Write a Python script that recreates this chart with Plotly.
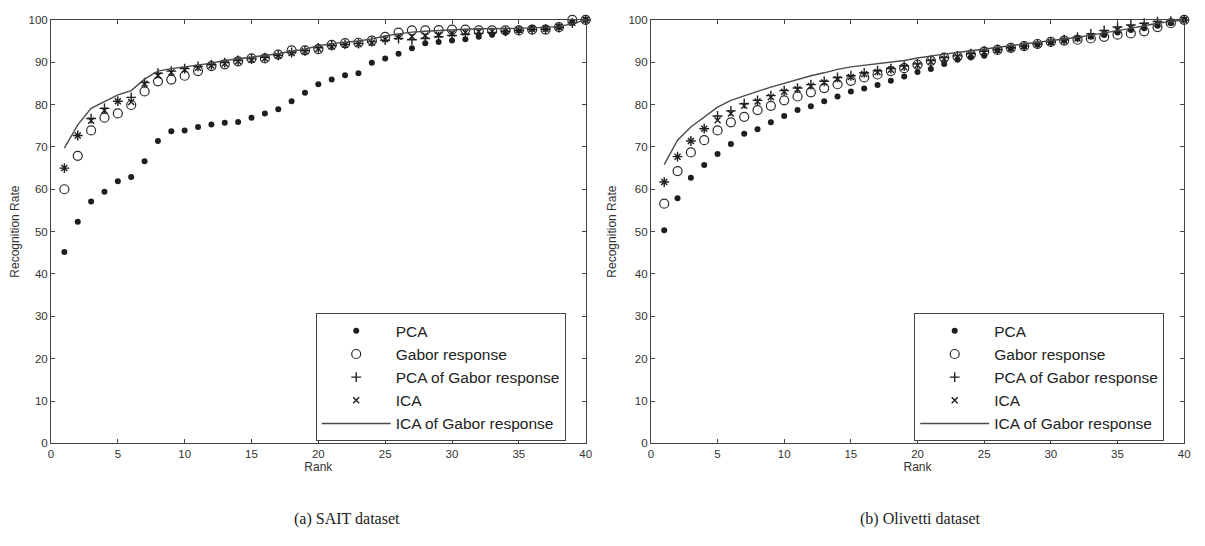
import plotly.graph_objects as go

rank = list(range(1, 41))

# (a) SAIT dataset
sait_pca = [45.2, 52.3, 57.1, 59.4, 61.9, 62.9, 66.6, 71.4, 73.7, 73.9, 74.7, 75.3, 75.7, 75.9, 76.9, 77.9, 78.9, 80.8, 82.8, 84.8,
            85.9, 86.9, 87.4, 89.9, 90.9, 92.0, 93.3, 94.5, 94.8, 95.1, 95.4, 96.0, 96.5, 97.0, 97.5, 97.9, 97.9, 98.3, 99.3, 100]
sait_gabor = [60.0, 67.9, 73.9, 76.9, 77.9, 79.9, 83.1, 85.5, 85.9, 86.8, 87.9, 89.1, 89.5, 90.2, 90.9, 90.9, 91.8, 92.8, 92.8, 93.1,
              94.1, 94.5, 94.6, 95.1, 96.0, 97.0, 97.5, 97.5, 97.6, 97.7, 97.7, 97.5, 97.5, 97.5, 97.5, 97.7, 97.7, 98.3, 100, 100]
sait_pca_gabor = [65.0, 72.7, 76.7, 79.1, 80.8, 81.7, 85.2, 87.4, 87.9, 88.5, 89.0, 89.4, 89.9, 90.4, 90.8, 91.1, 91.6, 92.3, 92.7, 93.4,
                  93.9, 94.2, 94.4, 94.8, 95.2, 95.6, 95.3, 95.6, 96.0, 96.3, 96.6, 96.8, 97.0, 97.3, 97.5, 97.7, 97.8, 98.2, 99.3, 100]
sait_ica = [65.0, 72.7, 76.2, 78.6, 80.8, 80.6, 84.9, 86.8, 87.6, 88.2, 88.7, 89.2, 89.7, 90.2, 90.6, 90.9, 91.5, 92.2, 92.6, 93.2,
            93.7, 94.1, 94.3, 94.6, 95.4, 96.0, 96.1, 96.3, 96.5, 96.8, 97.0, 97.2, 97.3, 97.4, 97.6, 97.8, 97.9, 98.3, 99.3, 100]
sait_ica_gabor = [69.7, 75.2, 79.1, 80.8, 82.3, 83.3, 86.0, 87.9, 88.5, 88.9, 89.3, 89.8, 90.4, 90.8, 91.1, 91.5, 92.0, 92.6, 93.1, 93.9,
                  94.4, 94.7, 95.0, 95.5, 96.2, 96.7, 97.1, 97.3, 97.5, 97.7, 97.8, 97.9, 97.9, 97.9, 98.0, 98.1, 98.2, 98.4, 99.1, 100]

# (b) Olivetti dataset
oli_pca = [50.3, 57.9, 62.7, 65.7, 68.3, 70.7, 73.1, 74.2, 75.8, 77.3, 78.7, 79.6, 80.8, 81.9, 83.1, 83.8, 84.6, 85.6, 86.6, 87.7,
           88.4, 89.6, 90.6, 91.1, 91.5, 92.8, 93.3, 93.7, 94.2, 94.7, 95.1, 95.6, 96.0, 96.4, 97.0, 97.6, 98.0, 98.6, 99.2, 100]
oli_gabor = [56.6, 64.3, 68.7, 71.6, 73.9, 75.8, 77.1, 78.7, 79.7, 81.0, 81.9, 82.9, 83.9, 84.8, 85.6, 86.4, 87.1, 87.9, 88.6, 89.4,
             90.3, 91.1, 91.3, 91.8, 92.5, 92.9, 93.4, 93.8, 94.3, 94.8, 95.1, 95.3, 95.6, 96.0, 96.5, 96.8, 97.3, 98.3, 99.2, 100]
oli_pca_gabor = [61.7, 67.7, 71.4, 74.3, 77.3, 78.5, 80.2, 81.0, 82.1, 83.3, 83.9, 84.7, 85.5, 86.4, 86.8, 87.5, 88.0, 88.5, 89.1, 89.6,
                 90.4, 91.1, 91.5, 92.0, 92.6, 93.0, 93.4, 93.8, 94.3, 94.8, 95.3, 95.9, 96.7, 97.5, 98.3, 98.8, 99.2, 99.6, 99.7, 100]
oli_ica = [61.7, 67.7, 71.4, 74.3, 76.3, 77.9, 79.7, 80.7, 81.8, 83.0, 83.6, 84.4, 85.2, 86.0, 86.5, 87.2, 87.7, 88.2, 88.8, 89.3,
           90.1, 90.8, 91.3, 91.8, 92.4, 92.9, 93.3, 93.7, 94.2, 94.7, 95.1, 95.6, 96.2, 96.9, 97.6, 98.1, 98.6, 99.1, 99.5, 100]
oli_ica_gabor = [65.8, 71.6, 74.7, 77.1, 79.4, 81.0, 82.1, 83.1, 84.1, 85.0, 86.0, 86.8, 87.5, 88.3, 88.9, 89.3, 89.6, 90.0, 90.4, 91.0,
                 91.5, 91.9, 92.3, 92.7, 93.0, 93.4, 93.8, 94.2, 94.6, 95.0, 95.4, 95.9, 96.4, 96.9, 97.5, 98.0, 98.6, 99.2, 99.6, 100]

series_names = ["PCA", "Gabor response", "PCA of Gabor response", "ICA", "ICA of Gabor response"]
x_ticks = [0, 5, 10, 15, 20, 25, 30, 35, 40]
y_ticks = [0, 10, 20, 30, 40, 50, 60, 70, 80, 90, 100]
captions = ["(a) SAIT dataset", "(b) Olivetti dataset"]

DARK = "#1e1e1e"
FONT = "Liberation Sans, Arial, sans-serif"
SERIF = "Liberation Serif, Times New Roman, serif"

fig = go.Figure()


def add_panel(xa, ya, legend, pca, gabor, pcag, ica, icag):
    common = dict(x=rank, xaxis=xa, yaxis=ya, legend=legend, cliponaxis=False)
    fig.add_trace(go.Scatter(y=pca, name=series_names[0], mode="markers",
                             marker=dict(symbol="circle", size=6, color=DARK), **common))
    fig.add_trace(go.Scatter(y=gabor, name=series_names[1], mode="markers",
                             marker=dict(symbol="circle-open", size=9, color="#2a2a2a", line=dict(width=1.2)), **common))
    fig.add_trace(go.Scatter(y=pcag, name=series_names[2], mode="markers",
                             marker=dict(symbol="cross-thin", size=7, color=DARK, line=dict(width=1.4, color=DARK)), **common))
    fig.add_trace(go.Scatter(y=ica, name=series_names[3], mode="markers",
                             marker=dict(symbol="x-thin", size=6, color=DARK, line=dict(width=1.4, color=DARK)), **common))
    fig.add_trace(go.Scatter(y=icag, name=series_names[4], mode="lines",
                             line=dict(color="#4a4a4a", width=1.4), **common))


add_panel("x", "y", "legend", sait_pca, sait_gabor, sait_pca_gabor, sait_ica, sait_ica_gabor)
add_panel("x2", "y2", "legend2", oli_pca, oli_gabor, oli_pca_gabor, oli_ica, oli_ica_gabor)

W, H = 1205, 546
OFF_X = 8  # page body margin in the browser
OFF_Y = 5


def px_x(p):
    return (p - OFF_X) / W


def px_y(p):
    return (H - (p - OFF_Y)) / H


y_dom = [px_y(444), px_y(11)]

xcommon = dict(range=[0, 40], tickvals=x_ticks, ticks="inside", ticklen=4, tickcolor="#444",
               showline=True, linecolor="#444", linewidth=1, mirror="ticks", showgrid=False, zeroline=False,
               ticklabeloverflow="allow",
               tickfont=dict(family=FONT, size=11.5, color="#333"),
               title=dict(text="Rank", font=dict(family=FONT, size=12, color="#333"), standoff=1))
ycommon = dict(range=[0, 100], tickvals=y_ticks, ticks="inside", ticklen=4, tickcolor="#444",
               showline=True, linecolor="#444", linewidth=1, mirror="ticks", showgrid=False, zeroline=False,
               ticklabeloverflow="allow",
               tickfont=dict(family=FONT, size=11.5, color="#333"),
               title=dict(text="Recognition Rate", font=dict(family=FONT, size=12, color="#333"), standoff=9))

legcommon = dict(font=dict(family=FONT, size=15.5, color="#222"), bordercolor="#444", borderwidth=1,
                 bgcolor="white", xanchor="left", yanchor="top", traceorder="normal", itemwidth=69,
                 tracegroupgap=0)

fig.update_layout(
    width=W, height=H,
    margin=dict(l=0, r=0, t=0, b=0),
    paper_bgcolor="white", plot_bgcolor="white",
    xaxis=dict(domain=[px_x(48.3), px_x(587)], anchor="y", **xcommon),
    yaxis=dict(domain=y_dom, anchor="x", **ycommon),
    xaxis2=dict(domain=[px_x(652.7), px_x(1190)], anchor="y2", **xcommon),
    yaxis2=dict(domain=y_dom, anchor="x2", **ycommon),
    legend=dict(x=px_x(315), y=px_y(311), **legcommon),
    legend2=dict(x=px_x(918), y=px_y(311), **legcommon),
    annotations=[
        dict(text=captions[0], x=px_x(347), y=px_y(521), xref="paper", yref="paper", showarrow=False,
             xanchor="center", yanchor="middle",
             font=dict(family=SERIF, size=16, color="#222")),
        dict(text=captions[1], x=px_x(924), y=px_y(521), xref="paper", yref="paper", showarrow=False,
             xanchor="center", yanchor="middle",
             font=dict(family=SERIF, size=16, color="#222")),
    ],
)

fig.write_html("out.html")
